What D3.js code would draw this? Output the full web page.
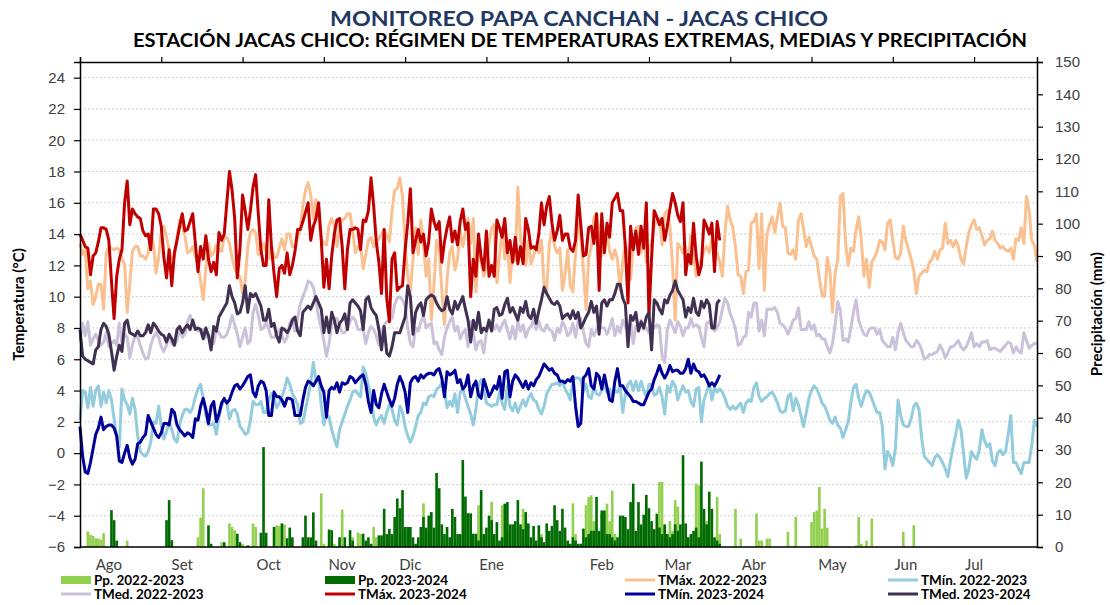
<!DOCTYPE html>
<html>
<head>
<meta charset="utf-8">
<script src="https://cdn.jsdelivr.net/npm/d3@7"></script>
<style>
  body { margin: 0; background: #fff; }
  svg { font-family: Lato, "Open Sans", sans-serif; }
  .tick-label { font-size: 15px; fill: #404040; }
  .axis-title { font-size: 15px; font-weight: bold; fill: #000; }
  .legend-text { font-size: 13.5px; font-weight: bold; fill: #000; }
</style>
</head>
<body>
<svg width="1110" height="605"></svg>
<script>
// daily values, day 0 = 1 Aug
const tmax2223 = [
  13.4,12.7,13.0,10.5,11.0,9.5,10.0,10.8,10.8,9.2,12.8,13.2,13.1,13.0,13.1,13.0,12.4,12.1,9.0,10.8,
  12.9,13.2,13.2,12.6,12.6,12.4,12.8,14.0,13.4,11.5,12.5,14.2,14.5,13.8,13.0,12.4,12.6,13.8,14.9,14.5,
  13.9,12.8,12.9,13.2,12.6,12.0,11.0,9.8,11.8,13.4,12.6,12.8,13.3,13.0,12.9,13.8,13.8,13.4,12.5,11.8,
  11.4,11.3,10.2,11.0,13.2,14.1,14.3,14.1,12.7,12.8,13.4,12.9,12.4,13.3,12.5,12.5,13.1,13.7,13.0,14.0,
  14.0,13.2,13.2,13.8,14.3,15.8,16.8,17.3,16.5,15.0,16.2,15.0,13.7,13.4,13.3,14.6,15.0,14.5,13.2,14.5,
  14.9,15.0,15.3,15.3,14.2,12.8,13.2,13.3,11.8,12.7,13.6,13.8,13.2,13.4,13.7,14.0,14.3,13.9,13.5,15.5,
  16.8,16.9,
  17.6,16.4,13.4,11.3,10.3,12.4,14.4,12.7,14.9,13.4,11.3,12.4,8.5,10.7,13.6,13.0,10.4,8.2,11.1,12.8,
  13.2,11.7,12.4,14.3,13.2,14.1,15.0,13.4,15.0,10.3,12.8,12.3,11.3,12.0,13.4,14.4,14.6,10.9,12.6,14.4,
  12.4,13.4,10.9,12.8,12.3,17.0,13.7,12.4,12.0,13.6,12.1,12.6,13.2,12.8,13.6,10.8,10.4,13.4,14.3,13.2,
  12.8,13.1,10.4,11.4,13.0,10.7,10.3,12.8,14.7,13.9,11.7,9.2,12.4,13.2,15.1,15.3,14.2,12.6,13.2,14.0,
  12.9,12.4,13.0,12.4,10.4,12.2,13.4,12.7,11.1,13.2,14.4,14.5,12.8,13.9,12.2,13.2,13.4,14.5,14.9,15.0,
  13.3,15.3,15.5,14.5,12.0,8.5,13.4,13.2,12.8,13.2,12.4,13.9,12.6,11.3,12.0,12.4,12.9,13.2,12.8,13.7,
  12.4,12.8,12.2,11.3,14.1,
  15.8,14.9,14.4,13.2,11.4,11.3,10.2,11.6,11.7,14.7,14.8,15.3,11.8,15.3,10.4,14.0,14.6,15.1,14.1,15.1,
  16.0,14.5,14.4,12.8,12.7,13.0,12.4,14.9,15.3,14.3,13.2,13.8,13.2,12.6,12.4,11.2,10.1,10.0,12.5,11.7,
  9.0,11.5,12.4,16.4,16.6,13.4,12.0,13.1,12.9,14.3,15.1,13.6,11.3,12.4,10.6,12.2,12.5,12.9,13.6,13.5,
  13.0,14.7,14.9,13.6,12.5,12.4,12.8,14.5,13.6,13.0,12.4,11.7,10.2,11.3,11.5,11.7,11.6,12.2,12.4,12.9,
  12.4,13.0,13.1,14.7,13.4,13.6,13.2,13.6,13.2,12.4,12.1,13.2,14.1,14.6,14.9,14.3,14.4,13.9,13.3,
  13.6,13.7,14.2,13.6,13.4,13.1,13.2,13.0,12.9,13.1,12.4,13.7,13.6,14.4,13.4,16.4,15.5,13.6,13.3,12.2
];
const tmin2223 = [
  2.1,4.0,3.9,2.9,4.2,3.0,4.0,4.3,3.0,3.9,3.2,4.0,3.4,2.2,1.0,0.4,4.1,3.4,3.1,2.5,
  3.5,2.8,1.1,0.1,-0.1,-0.2,0.1,0.7,2.0,1.9,3.0,1.7,0.9,1.4,2.0,1.5,0.9,0.7,1.8,2.4,
  2.8,2.8,2.6,2.9,3.6,4.1,4.4,3.5,2.4,1.8,1.8,1.9,1.2,2.3,3.0,3.4,3.2,2.2,2.7,2.8,
  2.5,1.7,1.5,1.2,1.3,2.1,3.3,3.1,3.1,3.3,2.6,2.6,3.4,3.8,3.5,2.9,3.2,3.6,4.1,4.8,
  4.4,3.8,3.5,3.1,1.9,2.0,2.8,3.6,4.5,5.8,4.6,4.8,3.1,1.8,2.5,2.3,1.5,0.9,0.4,1.5,
  2.0,2.5,3.0,3.4,3.9,4.0,3.8,3.6,5.5,5.1,4.3,3.6,2.3,1.8,2.2,2.4,1.9,2.6,3.1,2.8,
  2.1,1.8,
  3.0,2.6,1.7,1.1,0.7,1.1,1.7,2.4,2.6,3.2,3.1,3.6,3.7,3.6,4.1,4.2,4.5,4.0,2.9,3.3,
  3.0,3.8,2.6,3.9,4.1,3.5,3.0,2.5,1.8,2.8,4.3,4.7,4.1,3.2,3.1,3.0,3.1,3.1,3.9,3.2,
  2.8,4.3,3.0,2.7,3.2,2.6,3.0,3.4,3.0,3.5,3.8,3.4,3.3,2.8,2.5,3.0,3.8,4.1,4.4,4.4,
  4.5,4.3,4.6,4.1,3.8,3.4,4.7,4.8,4.8,4.7,3.9,4.4,3.6,3.5,4.2,3.8,3.7,4.0,4.3,3.9,
  4.1,3.6,4.0,3.9,4.3,2.6,3.8,4.4,4.6,4.0,4.6,4.0,4.6,4.0,3.6,4.4,4.4,3.7,3.8,4.2,
  3.6,2.5,4.3,3.9,4.6,4.3,3.4,3.9,4.3,3.9,4.0,3.3,3.0,4.1,4.2,2.0,3.4,3.9,4.5,3.4,
  4.2,3.9,4.1,3.9,3.5,
  3.0,2.8,3.0,2.8,3.0,3.2,2.6,3.2,3.4,3.3,4.2,4.5,3.6,3.3,3.5,3.6,3.8,3.9,3.6,3.2,
  2.7,2.6,2.7,3.6,3.8,2.7,3.5,3.1,2.4,1.7,2.6,3.5,4.0,4.3,4.1,3.7,3.2,3.0,2.6,2.1,
  1.9,2.3,1.8,1.6,1.0,1.5,2.0,3.2,4.2,4.4,3.5,3.0,3.6,4.0,3.9,3.5,3.0,2.6,2.6,1.7,
  -1.0,0.1,-0.2,-0.8,0.3,3.4,2.4,1.8,1.7,1.7,2.2,3.0,3.2,2.8,1.0,-0.2,-0.4,-0.6,-0.8,-0.3,
  -0.1,-0.3,-0.6,-1.0,-1.5,-0.5,0.4,1.2,2.1,1.5,0.0,-1.6,-1.0,0.1,-0.2,-0.4,0.2,1.5,0.8,0.4,
  0.6,-0.5,-0.8,0.0,0.2,-0.1,0.1,1.2,2.4,-0.6,-0.6,-1.0,-1.3,-0.6,-0.6,-0.6,0.5,2.1,1.7
];
const tmed2223 = [
  7.2,8.3,7.5,8.4,6.9,7.3,7.6,7.2,6.9,7.1,7.7,6.8,7.0,7.2,6.9,8.3,7.0,7.6,7.4,6.1,
  6.9,7.5,7.4,6.9,6.4,6.0,6.1,6.9,7.4,7.7,7.4,6.8,6.5,6.9,7.6,7.0,6.9,7.2,8.0,7.4,
  7.6,8.4,8.8,8.3,8.1,7.8,7.8,7.9,7.4,7.6,7.2,7.0,7.9,7.7,7.4,7.4,7.6,8.1,8.8,8.2,
  7.6,6.8,7.4,8.0,7.0,7.2,9.0,9.5,8.8,7.9,8.0,8.4,7.9,7.4,7.4,7.6,7.9,7.5,7.1,7.4,
  8.3,8.6,7.8,8.6,9.5,10.0,10.4,11.0,10.9,10.6,9.8,8.7,8.0,7.2,6.2,7.0,8.2,8.6,8.6,8.2,
  7.7,7.7,8.0,8.4,8.7,8.5,7.9,7.9,7.9,7.0,7.7,8.1,7.9,7.5,6.9,7.6,8.2,8.4,8.5,8.6,
  9.5,9.9,
  10.0,9.8,9.4,8.0,7.0,6.8,8.0,7.8,8.4,8.8,8.0,8.2,8.3,7.0,7.1,6.6,6.3,7.4,8.0,8.4,
  8.7,7.8,8.1,7.3,7.7,7.9,6.8,8.4,7.7,6.6,7.1,7.2,6.4,7.7,8.3,8.3,7.9,8.2,7.8,8.2,
  8.5,7.9,7.3,8.1,7.3,8.4,7.8,8.2,7.4,7.9,8.1,8.5,7.9,8.4,7.9,7.8,8.2,7.9,7.8,7.2,
  8.0,7.7,8.4,8.1,7.5,7.7,8.3,7.4,8.5,8.6,7.8,7.0,6.8,7.9,7.5,7.9,8.2,8.0,8.0,7.6,
  8.0,8.6,7.5,8.1,7.7,8.5,8.1,7.8,8.4,7.0,8.1,7.9,8.5,7.9,8.0,7.7,8.1,8.0,8.2,8.1,
  6.2,5.8,7.9,8.5,8.1,7.7,8.4,8.1,7.5,8.0,8.0,8.6,8.1,8.2,8.1,7.4,6.8,8.3,8.4,8.1,
  7.8,8.0,8.4,9.2,9.9,
  9.6,8.9,8.5,7.9,6.9,7.0,7.4,7.5,9.0,8.7,9.6,9.6,7.8,8.5,7.5,9.2,9.2,9.2,9.3,9.0,
  8.3,8.2,8.0,7.6,8.0,8.5,8.6,9.3,7.9,7.9,7.9,8.4,7.9,8.2,7.5,7.6,7.3,7.3,6.8,6.4,
  7.0,8.2,9.7,9.1,7.2,7.3,7.1,8.0,9.0,9.8,8.5,8.0,7.6,7.5,7.9,8.0,8.0,7.6,7.9,7.2,
  7.0,6.8,6.8,7.4,6.6,7.7,8.3,7.7,7.2,7.0,6.8,6.8,7.2,7.0,6.6,6.0,6.1,6.3,6.3,6.4,
  6.5,6.9,6.6,6.1,6.4,6.8,6.8,7.0,7.2,6.8,6.6,6.8,7.2,7.7,6.8,7.0,6.8,7.1,7.1,7.2,
  6.6,6.7,6.7,6.6,6.5,6.7,6.9,7.1,7.0,6.4,6.8,6.5,6.4,7.7,7.2,6.7,6.9,7.0,7.0
];
const tmax2324 = [
  14.0,13.6,13.2,13.1,11.4,12.6,12.8,13.5,14.4,14.4,14.3,13.6,11.0,8.6,11.3,12.4,13.0,16.0,17.4,14.6,
  15.6,15.3,15.1,15.0,14.2,13.9,14.0,13.0,15.6,15.6,15.3,14.5,12.5,11.2,13.0,10.7,12.8,13.6,14.5,15.3,
  14.2,14.3,14.8,15.3,13.4,11.6,13.2,12.4,13.9,12.4,11.6,12.2,11.4,14.1,13.6,14.0,16.0,18.0,16.8,15.0,
  11.2,13.0,16.5,15.5,14.3,15.5,17.0,17.8,15.3,13.0,12.0,12.0,16.2,13.2,11.5,10.0,11.8,12.0,11.5,12.8,
  11.4,12.0,12.9,14.3,14.3,14.8,15.4,16.0,13.6,14.5,15.0,16.0,13.7,10.6,12.4,10.5,12.6,14.0,14.9,15.0,
  13.2,10.5,13.0,14.3,14.3,14.4,14.3,13.0,14.9,14.8,15.5,17.6,15.8,13.5,12.2,10.2,14.3,9.9,8.4,12.4,
  12.8,10.4,10.6,10.7,13.0,14.7,16.9,12.8,13.6,14.3,
  13.5,14.0,12.6,13.5,15.6,14.8,14.3,14.8,12.2,13.5,14.4,15.1,13.5,14.2,13.3,14.8,15.6,14.3,14.7,10.0,
  12.4,11.3,14.0,12.5,11.7,14.2,11.3,12.0,11.3,14.9,14.4,13.8,15.0,12.8,13.6,12.2,13.8,12.1,13.2,12.1,
  15.0,14.3,13.1,13.2,13.0,14.0,16.0,14.6,15.8,16.4,14.7,13.6,14.2,15.2,13.6,14.0,14.0,13.1,12.9,13.6,
  16.5,14.6,12.6,12.7,14.4,14.5,13.4,15.3,10.4,15.3,12.8,14.7,13.8,16.0,16.3,16.6,15.5,15.5,13.2,9.6,
  14.5,13.0,14.2,12.7,14.5,13.1,16.0,8.8,12.5,15.5,15.1,14.6,15.0,13.6,14.5,15.6,16.6,16.0,15.2,14.8,
  16.0,11.4,12.7,12.1,14.7,12.6,11.4,12.0,14.9,14.5,14.0,14.7,11.6,14.8,13.6
];
const tmin2324 = [
  1.7,-0.2,-1.2,-1.3,-0.6,0.3,1.2,1.6,2.3,1.5,1.7,1.8,1.8,1.6,1.1,-0.5,-0.6,0.0,0.5,-0.3,
  -0.7,-0.4,0.6,0.7,1.0,1.2,2.4,2.0,1.6,1.2,1.0,1.3,1.9,1.9,1.8,2.8,2.6,1.8,1.5,1.3,
  1.1,1.3,1.2,1.0,2.2,2.1,3.0,3.5,2.8,1.9,3.0,3.3,2.0,2.5,3.2,3.5,3.2,3.4,3.9,4.3,
  4.4,4.1,4.3,4.6,4.9,5.0,3.9,3.6,4.3,4.6,4.5,4.0,2.4,2.4,3.9,3.6,3.6,3.4,3.0,3.5,
  3.5,3.4,2.4,2.4,2.4,3.4,4.2,4.6,4.5,4.3,4.6,4.9,4.3,3.9,2.3,4.0,4.2,4.1,4.5,3.9,
  4.5,4.4,4.5,4.9,4.8,4.5,4.7,4.9,5.0,4.4,3.3,2.6,4.0,3.1,2.9,3.8,4.4,3.9,3.4,3.0,
  3.5,4.4,
  4.9,4.5,3.9,2.6,4.5,4.8,4.9,4.6,5.0,4.8,5.0,5.1,5.1,5.0,5.3,5.4,4.8,3.6,5.2,5.0,
  5.1,5.3,4.5,4.7,4.1,4.3,5.0,3.6,4.3,4.6,3.7,3.5,4.7,4.2,3.6,3.9,4.3,4.1,4.9,3.5,
  5.2,5.3,3.6,4.6,5.0,4.8,4.5,4.2,4.6,4.1,4.5,4.3,4.7,4.9,5.3,5.7,5.5,5.3,5.4,5.1,
  5.0,4.6,4.6,4.5,4.7,4.6,4.9,3.0,1.7,1.9,4.8,5.0,5.4,4.3,4.1,5.1,4.9,4.1,5.0,4.2,
  3.4,3.3,4.6,5.4,4.3,4.3,4.0,3.8,3.6,3.3,3.3,3.2,3.1,3.1,3.5,3.9,4.1,4.7,5.1,5.6,
  5.1,4.8,5.1,5.6,5.2,5.3,5.3,5.1,5.1,5.4,6.0,5.1,5.7,5.3,5.2,4.9,5.0,4.7,4.3,4.5,
  4.3,4.6,5.0
];
const tmed2324 = [
  7.9,6.2,6.0,5.9,5.8,5.7,6.6,6.8,7.9,8.3,8.1,7.6,6.5,5.3,6.2,6.9,6.5,8.3,8.5,7.7,
  7.6,7.5,7.8,7.5,7.5,7.7,8.2,7.7,8.3,8.1,7.8,7.6,7.5,7.1,7.6,7.3,6.9,7.9,8.1,7.7,
  8.0,8.2,7.9,8.5,7.9,8.0,7.9,7.3,8.0,7.5,6.6,8.1,7.8,8.7,9.0,9.3,9.6,10.7,10.0,9.6,
  8.9,9.0,9.6,10.7,9.0,10.2,10.0,10.2,9.8,9.4,8.5,8.5,9.2,8.1,8.3,7.5,7.1,8.0,7.9,7.7,
  8.0,8.5,8.7,7.8,7.5,9.0,9.2,9.4,9.2,9.6,10.0,9.6,9.2,7.7,8.7,7.7,9.0,8.5,7.7,8.3,
  8.5,8.9,7.9,9.6,9.8,9.6,9.4,9.1,7.9,9.8,10.0,9.3,9.0,8.8,7.9,6.6,8.1,6.4,6.2,6.8,
  7.7,7.7,
  7.7,8.2,8.7,10.7,10.0,7.6,9.0,9.4,9.6,8.8,9.8,10.0,10.1,10.0,9.6,9.3,9.1,9.2,10.0,9.2,
  8.9,9.7,9.2,9.6,10.0,9.2,8.5,7.1,8.5,7.9,9.0,7.7,8.0,7.8,8.5,7.8,9.2,9.3,8.8,8.9,
  9.5,9.9,9.0,9.3,8.9,8.5,9.3,9.0,9.7,8.8,8.6,9.2,8.3,9.1,9.8,10.6,10.2,9.9,9.6,9.5,
  9.7,9.4,8.6,8.8,8.9,8.6,9.1,8.6,9.0,8.0,8.3,8.7,9.0,9.7,9.0,9.4,7.6,9.6,9.8,9.4,
  9.8,9.8,10.2,10.8,10.8,9.9,9.5,6.8,8.8,8.5,9.0,7.8,8.4,8.0,8.7,9.0,6.6,9.8,9.6,9.2,
  8.9,9.8,9.6,10.1,10.4,11.0,10.4,10.1,9.8,8.7,9.3,9.0,9.9,9.0,8.8,9.7,9.3,9.8,9.5,8.0,
  8.0,9.6,9.8
];
const pp2223 = [
  0,0,0,4.8,3.8,3.4,2.7,2.6,2.3,4.3, 0,0,0,0,0,0,0,0,2.0,0,
  0,0,0,0,0,0,0,0,0,0, 0,0,0,0,0,0,0,0,0,0,
  0,0,0,0,0,3.0,9.1,18.2,0,0, 0,0,0,0,1.5,0,0,7.3,6.2,5.2,
  0,0,1.0,0,0,0,7.3,6.2,0,0, 0,0,0,0,0,6.7,6.5,0,7.0,0,
  0,0,0,0,0,0,0,0,0,0, 1.0,0,16.6,1.0,0,0,0,1.0,0,0,
  11.6,0,0,0,3.0,0,4.5,4.0,0,0, 0,0,6.2,3.0,0,0,0,0,0,0,
  0,0,0,0,4.0,0,0,0,0,0, 0,13.5,0,5.0,0,0,0,0,0,0,
  0,0,0,0,0,0,0,10.0,10.4,0, 0,0,12.9,6.0,0,0,0,14.0,0,0,
  0,12.9,0,5.0,0,0,0,0,0,11.8, 6.0,0,0,0,0,0,4.0,0,0,0,
  0,0,0,0,0,0,0,0,13.5,4.0, 0,0,0,12.9,15.5,16.0,8.0,0,0,10.3,
  0,13.4,8.0,17.5,4.0,0,0,0,0,3.0, 0,0,0,0,5.0,0,0,0,0,0,
  0,20.1,20.1,6.0,0,8.0,5.0,14.5,12.5,0, 0,0,0,0,0,19.6,19.1,5.0,0,8.0,
  0,0,0,15.5,4.0,0,0,0,0,0, 11.8,0,2.6,0,0,0,0,0,10.4,2.0,
  2.0,0,2.6,2.6,0,0,0,0,0,0, 4.7,0,0,9.3,0,0,0,0,0,7.7,
  10.8,11.3,18.6,5.7,11.8,6.0,0,0,0,0, 0,0,0,0,0,0,0.5,9.3,1.0,0,
  2.0,0,8.8,0,0,0,0,0,0,0, 0,0,0,0,4.7,0,0,0,6.7,0,
  0,0,0,0,0,0,0,0,0,0, 0,0,0,0,0,0,0,0,0,0,
  0,0,0,0,0,0,0,0,0,0, 0,0,0,0,0,0,0,0,0,0,
  0,0,0,0,0,0
];
const pp2324 = [
  0,0,0,0,0,0,0,0,0,0, 0,0,11.4,8.3,2.0,0,0,0,0,0,
  0,0,0,0,0,0,0,0,0,0, 0,0,0,8.3,14.5,2.1,0,0,0,0,
  0,0,0,0,0,0,0,0,0,6.7, 1.0,0,0,0,0,1.5,0,0,0,0,
  4.1,1.5,0,0,0.5,0,0,0,0,4.4, 30.9,4.4,0,0,6.2,0,0,7.3,0,2.7,
  6.0,3.0,0,0,0,3.0,9.7,3.0,3.0,10.7, 2.0,0,0,0,0,5.4,5.2,0,0,3.0,
  0,3.0,0,5.2,2.0,0,0,0,4.1,2.0, 3.0,1.0,0,0,3.6,3.6,11.8,4.0,5.6,4.0,
  9.3,15.0,12.0,17.6,6.2,6.2,6.2,3.0,1.0,3.0, 6.2,9.3,6.0,9.7,10.8,6.0,22.9,18.2,7.0,4.0,
  6.2,3.0,11.8,9.3,4.0,4.0,26.9,15.6,10.4,10.4, 4.1,4.1,2.0,17.6,4.0,6.0,9.7,8.3,4.0,7.7,
  2.0,3.0,13.4,13.9,7.0,7.0,8.0,14.5,7.0,5.5, 10.8,7.3,3.0,6.5,2.0,6.7,3.0,1.5,7.3,5.0,
  6.5,12.9,8.3,5.0,11.8,6.0,2.0,1.0,3.0,2.0, 1.0,1.0,5.7,3.0,4.0,5.0,5.0,15.5,5.0,11.3,
  11.3,4.0,4.0,3.0,2.0,3.0,9.7,9.7,9.3,5.5, 13.9,19.6,5.0,13.9,7.0,10.0,16.1,12.0,8.0,5.5,
  10.3,6.0,4.0,7.0,4.0,3.0,4.0,7.0,5.0,7.0, 28.4,7.3,3.0,4.0,5.0,6.0,3.0,26.4,11.8,7.0,
  17.1,11.8,3.0,2.0,1.0
];

const monthLabels = ["Ago", "Set", "Oct", "Nov", "Dic", "Ene", "Feb", "Mar", "Abr", "May", "Jun", "Jul"];
const monthLabelDays = [11, 39, 72, 100, 126, 157, 199, 228, 257, 287, 315, 341];
const tempTicks = d3.range(-6, 25, 2);
const precipTicks = d3.range(0, 151, 10);

const seriesInfo = [
  { name: "Pp. 2022-2023", type: "bar", data: pp2223, color: "#92D050" },
  { name: "Pp. 2023-2024", type: "bar", data: pp2324, color: "#006B00" },
  { name: "TMáx. 2022-2023", type: "line", data: tmax2223, color: "#FAC090" },
  { name: "TMín. 2022-2023", type: "line", data: tmin2223, color: "#93CDDD" },
  { name: "TMed. 2022-2023", type: "line", data: tmed2223, color: "#CCC1DA" },
  { name: "TMáx. 2023-2024", type: "line", data: tmax2324, color: "#C00000" },
  { name: "TMín. 2023-2024", type: "line", data: tmin2324, color: "#000099" },
  { name: "TMed. 2023-2024", type: "line", data: tmed2324, color: "#403152" },
];

const svg = d3.select("svg");
const margin = { left: 80, right: 73, top: 62, bottom: 58 };
const width = +svg.attr("width");
const height = +svg.attr("height");
const inner = {
  width: width - margin.left - margin.right,
  height: height - margin.top - margin.bottom,
};

const x = d3.scaleLinear().domain([0, 365]).range([0, inner.width]);
const yT = d3.scaleLinear().domain([-6, 25]).range([inner.height, 0]);
const yP = d3.scaleLinear().domain([0, 150]).range([inner.height, 0]);
const barW = x(1) - x(0);

// titles
svg.append("text")
  .text("MONITOREO PAPA CANCHAN - JACAS CHICO")
  .attr("x", 579).attr("y", 26)
  .attr("text-anchor", "middle")
  .attr("textLength", 498).attr("lengthAdjust", "spacingAndGlyphs")
  .style("font-size", "21px").style("font-weight", "bold").style("fill", "#1F3864");
svg.append("text")
  .text("ESTACIÓN JACAS CHICO: RÉGIMEN DE TEMPERATURAS EXTREMAS, MEDIAS Y PRECIPITACIÓN")
  .attr("x", 580).attr("y", 47)
  .attr("text-anchor", "middle")
  .attr("textLength", 894).attr("lengthAdjust", "spacingAndGlyphs")
  .style("font-size", "19px").style("font-weight", "bold").style("fill", "#000");

const g = svg.append("g").attr("transform", `translate(${margin.left},${margin.top})`);

// dotted grid on temperature ticks
g.append("g")
  .selectAll("line")
  .data(tempTicks)
  .join("line")
  .attr("x1", 0).attr("x2", inner.width)
  .attr("y1", (d) => yT(d)).attr("y2", (d) => yT(d))
  .attr("stroke", "#d0d0d0").attr("stroke-width", 1).attr("stroke-dasharray", "2,2");

// precipitation bars
seriesInfo.filter((s) => s.type === "bar").forEach((s) => {
  g.append("g")
    .selectAll("rect")
    .data(s.data.map((v, i) => ({ v, i })).filter((d) => d.v > 0))
    .join("rect")
    .attr("x", (d) => x(d.i) - barW / 2)
    .attr("width", barW)
    .attr("y", (d) => yP(d.v))
    .attr("height", (d) => inner.height - yP(d.v))
    .attr("fill", s.color);
});

// temperature lines
const line = d3.line().x((d, i) => x(i)).y((d) => yT(d));
seriesInfo.filter((s) => s.type === "line").forEach((s) => {
  g.append("path")
    .datum(s.data)
    .attr("d", line)
    .attr("fill", "none")
    .attr("stroke", s.color)
    .attr("stroke-width", 3)
    .attr("stroke-linejoin", "round");
});

// axes
const yAxisLeft = d3.axisLeft(yT).tickValues(tempTicks).tickSize(6).tickPadding(9);
const yAxisRight = d3.axisRight(yP).tickValues(precipTicks).tickSize(6).tickPadding(12);
const xAxisTop = d3.axisTop(x).tickValues(d3.range(0, 366, 31)).tickSize(5).tickFormat("");

const styleAxis = (sel) => {
  sel.select(".domain").attr("stroke", "#000").attr("stroke-width", 1.5);
  sel.selectAll(".tick line").attr("stroke", "#000").attr("stroke-width", 1.2);
  sel.selectAll(".tick text").attr("class", "tick-label").attr("font-family", null).attr("font-size", null);
};

g.append("g").call(yAxisLeft).call(styleAxis);
g.append("g").attr("transform", `translate(${inner.width},0)`).call(yAxisRight).call(styleAxis);
g.append("g").call(xAxisTop).call(styleAxis);
g.append("line")
  .attr("x1", 0).attr("x2", inner.width)
  .attr("y1", inner.height).attr("y2", inner.height)
  .attr("stroke", "#000").attr("stroke-width", 1.5);

// month labels
g.append("g")
  .selectAll("text")
  .data(monthLabels)
  .join("text")
  .attr("class", "tick-label")
  .attr("x", (d, i) => x(monthLabelDays[i]))
  .attr("y", inner.height + 23)
  .attr("text-anchor", "middle")
  .text((d) => d);

// axis titles
svg.append("text")
  .attr("class", "axis-title")
  .attr("transform", `translate(24,${margin.top + yT(9.5)}) rotate(-90)`)
  .attr("text-anchor", "middle")
  .text("Temperatura (°C)");
svg.append("text")
  .attr("class", "axis-title")
  .attr("transform", `translate(1102,${margin.top + yP(72)}) rotate(-90)`)
  .attr("text-anchor", "middle")
  .text("Precipitación (mm)");

// legend, 4 columns x 2 rows
const legendCols = [61, 325, 625, 888];
const legendRows = [580, 594];
const legend = svg.append("g");
seriesInfo.forEach((s, i) => {
  const lx = legendCols[i % 4];
  const ly = legendRows[Math.floor(i / 4)];
  if (s.type === "bar") {
    legend.append("rect")
      .attr("x", lx).attr("y", ly - 4).attr("width", 30).attr("height", 8)
      .attr("fill", s.color);
  } else {
    legend.append("line")
      .attr("x1", lx).attr("x2", lx + 30).attr("y1", ly).attr("y2", ly)
      .attr("stroke", s.color).attr("stroke-width", 3);
  }
  legend.append("text")
    .attr("class", "legend-text")
    .attr("x", lx + 33).attr("y", ly + 5)
    .text(s.name);
});
</script>
</body>
</html>
